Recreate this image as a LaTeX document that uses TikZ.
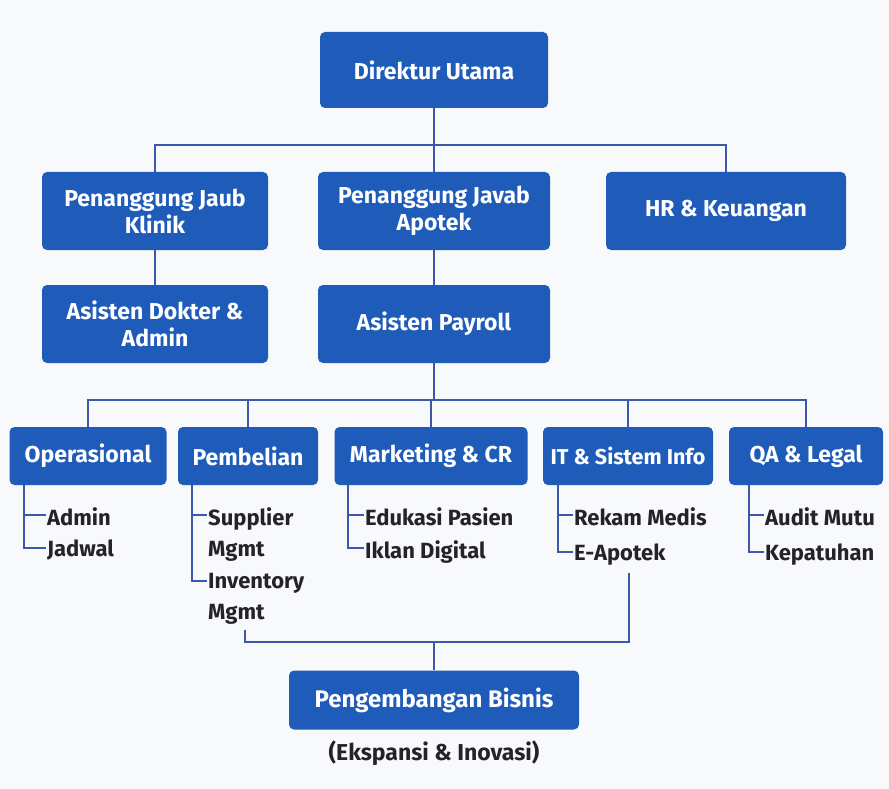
\documentclass[tikz,border=0pt]{standalone}
\usepackage{fontspec}
\setmainfont{Fira Sans}
\usetikzlibrary{positioning}

\definecolor{orgblue}{RGB}{31,92,185}
\definecolor{linkblue}{RGB}{60,88,172}
\definecolor{pagebg}{RGB}{248,249,250}
\definecolor{itemtext}{RGB}{35,35,40}

\begin{document}
\begin{tikzpicture}[
    x=1pt, y=-1pt,
    unit/.style={rectangle, rounded corners=5pt, fill=orgblue, text=white, align=center, inner sep=2pt, font=\fontsize{23}{27}\selectfont\bfseries},
    boss/.style={unit, minimum width=228pt, minimum height=76pt},
    head/.style={unit, minimum width=226pt, minimum height=78pt},
    dept/.style={unit, minimum height=58pt},
    item/.style={anchor=north west, inner sep=1pt, text=itemtext, align=left, font=\fontsize{22}{31}\selectfont\bfseries},
    link/.style={draw=linkblue, line width=1.8pt}
]

% page
\fill[pagebg] (0,0) rectangle (889,789);

% Top level
\node[boss] (dir) at (434,70) {Direktur Utama};

% Second level
\node[head] (klinik) at (155,211) {Penanggung Jaub\\Klinik};
\node[head, minimum width=232pt] (apotek) at (434,211) {Penanggung Javab\\Apotek};
\node[head, minimum width=240pt] (hr) at (726,211) {HR \& Keuangan};

% Assistants
\node[head] (asdok) at (155,324) {Asisten Dokter \&\\Admin};
\node[head, minimum width=232pt] (payroll) at (434,324) {Asisten Payroll};

% Departments
\node[dept, minimum width=157pt] (ops) at (88,456) {Operasional};
\node[dept, minimum width=140pt] (pemb) at (248,456) {Pembelian};
\node[dept, minimum width=193pt] (mkt) at (431,456) {Marketing \& CR};
\node[dept, minimum width=170pt, font=\fontsize{21.5}{26}\selectfont\bfseries] (it) at (628,456) {IT \& Sistem Info};
\node[dept, minimum width=154pt] (qa) at (806,456) {QA \& Legal};

% Department tasks
\node[item] (admin) at (46,506) {Admin};
\node[item] (jadwal) at (46,539) {Jadwal};
\node[item] (supplier) at (207,506) {Supplier\\Mgmt};
\node[item] (inventory) at (207,572) {Inventory\\Mgmt};
\node[item] (edukasi) at (364,506) {Edukasi Pasien};
\node[item] (iklan) at (364,539) {Iklan Digital};
\node[item] (rekam) at (573,506) {Rekam Medis};
\node[item] (eapotek) at (573,543) {E-Apotek};
\node[item] (audit) at (764,506) {Audit Mutu};
\node[item] (patuh) at (764,543) {Kepatuhan};

% Business development
\node[unit, minimum width=290pt, minimum height=59pt, font=\fontsize{24}{28}\selectfont\bfseries] (bisnis) at (434,700) {Pengembangan Bisnis};
\node[item, anchor=center, font=\fontsize{23}{27}\selectfont\bfseries] (ekspansi) at (434,753) {(Ekspansi \& Inovasi)};

% Bus points
\coordinate (bus1) at (434,145);
\coordinate (bus2) at (434,400);
\coordinate (invend) at (245,630);
\coordinate (eapend) at (629,573);
\coordinate (join) at (434,642);

% Connectors: upper part
\draw[link] (dir) -- (bus1);
\draw[link] (klinik.north) |- (bus1) -| (hr.north);
\draw[link] (bus1) -- (apotek.north);
\draw[link] (klinik) -- (asdok);
\draw[link] (apotek) -- (payroll);

% Connectors: departments
\draw[link] (payroll) -- (bus2);
\draw[link] (ops.north) |- (bus2) -| (qa.north);
\draw[link] (pemb.north) -- (pemb.north |- bus2);
\draw[link] (mkt.north) -- (mkt.north |- bus2);
\draw[link] (it.north) -- (it.north |- bus2);

% Task trees
\draw[link] ([xshift=15pt]ops.south west) |- ([yshift=-9pt]admin.north west);
\draw[link] ([xshift=15pt]ops.south west) |- ([yshift=-9pt]jadwal.north west);
\draw[link] ([xshift=14pt]pemb.south west) |- ([yshift=-9pt]supplier.north west);
\draw[link] ([xshift=14pt]pemb.south west) |- ([yshift=-9pt]inventory.north west);
\draw[link] ([xshift=14pt]mkt.south west) |- ([yshift=-9pt]edukasi.north west);
\draw[link] ([xshift=14pt]mkt.south west) |- ([yshift=-9pt]iklan.north west);
\draw[link] ([xshift=15pt]it.south west) |- ([yshift=-9pt]rekam.north west);
\draw[link] ([xshift=15pt]it.south west) |- ([yshift=-9pt]eapotek.north west);
\draw[link] ([xshift=20pt]qa.south west) |- ([yshift=-9pt]audit.north west);
\draw[link] ([xshift=20pt]qa.south west) |- ([yshift=-9pt]patuh.north west);

% Connectors: business development
\draw[link] (invend) |- (join) -| (eapend);
\draw[link] (join) -- (bisnis.north);

\end{tikzpicture}
\end{document}
